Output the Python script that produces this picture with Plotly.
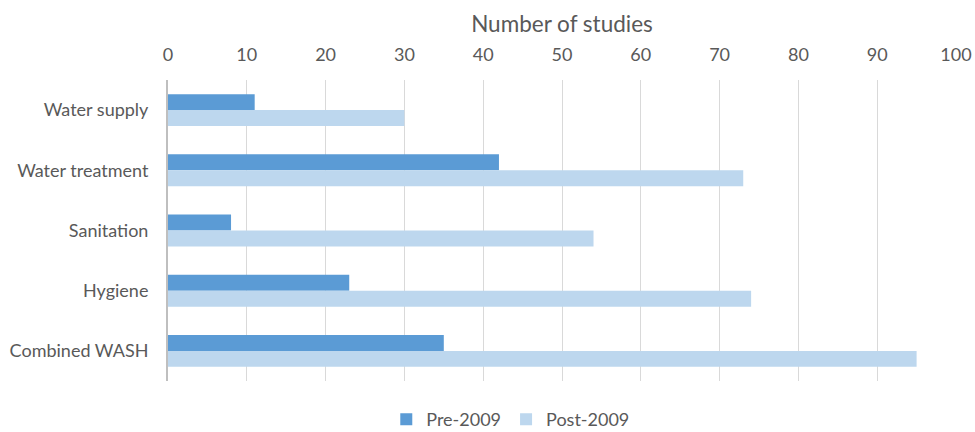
import plotly.graph_objects as go

categories = ["Water supply", "Water treatment", "Sanitation", "Hygiene", "Combined WASH"]
pre_2009 = [11, 42, 8, 23, 35]
post_2009 = [30, 73, 54, 74, 95]
x_ticks = list(range(0, 101, 10))

TEXT = "#595959"
FONT = "Lato"

fig = go.Figure()
fig.add_trace(go.Bar(y=categories, x=pre_2009, orientation="h", name="Pre-2009",
                     marker=dict(color="#5B9BD5", line=dict(width=0))))
fig.add_trace(go.Bar(y=categories, x=post_2009, orientation="h", name="Post-2009",
                     marker=dict(color="#BDD7EE", line=dict(width=0))))

fig.update_layout(
    width=975, height=432,
    margin=dict(l=168, r=19, t=80, b=51, autoexpand=False),
    paper_bgcolor="white", plot_bgcolor="white",
    barmode="group", bargap=0.47, bargroupgap=0,
    font=dict(family=FONT, color=TEXT, size=18),
    showlegend=True,
    legend=dict(orientation="h", x=0.435, xanchor="center", y=-0.128, yanchor="middle",
                font=dict(size=18, color=TEXT), itemwidth=30, tracegroupgap=0),
    xaxis=dict(side="top", range=[0, 100], tickvals=x_ticks, ticktext=[str(v) for v in x_ticks],
               showgrid=True, gridcolor="#D9D9D9", gridwidth=1, zeroline=False,
               showline=False, ticks="", ticklabelstandoff=14,
               tickfont=dict(size=18, color=TEXT),
               title=dict(text="Number of studies", font=dict(size=22.5, color=TEXT), standoff=4)),
    yaxis=dict(autorange="reversed", showgrid=False, zeroline=False,
               showline=True, linecolor="#BFBFBF", linewidth=2,
               ticks="", ticklabelstandoff=14, tickfont=dict(size=18, color=TEXT)),
)

fig.write_html("out.html")
